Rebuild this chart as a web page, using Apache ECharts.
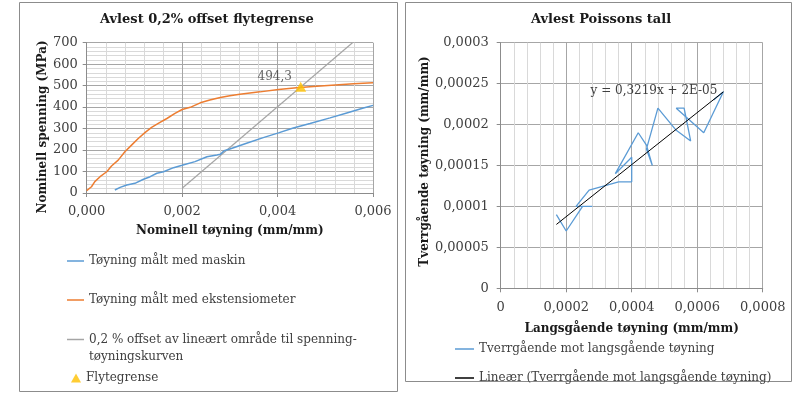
<!DOCTYPE html>
<html><head><meta charset="utf-8">
<script src="https://cdn.jsdelivr.net/npm/echarts@6/dist/echarts.min.js"></script>
<style>html,body{margin:0;padding:0;background:#fff}#c{width:800px;height:393px}</style>
</head><body><div id="c"></div>
<script>
// ---- Left chart data ----
const machineStrain = [0.00059, 0.0007, 0.00084, 0.00101, 0.00119, 0.00133, 0.00147, 0.00161, 0.00182, 0.002, 0.00227, 0.00252, 0.00273, 0.0028, 0.00288, 0.003, 0.00335, 0.0037, 0.00402, 0.00433, 0.00468, 0.0051, 0.00545, 0.0058, 0.006];
const machineStress = [14, 26, 37, 45, 64, 76, 92, 99, 118, 129, 146, 169, 177, 180, 197, 205, 232, 258, 280, 303, 324, 350, 373, 396, 408];
const extStrain = [0, 0.0001, 0.00017, 0.00028, 0.00042, 0.00052, 0.00066, 0.0008, 0.00094, 0.00108, 0.00122, 0.00136, 0.0015, 0.00168, 0.00185, 0.002, 0.00217, 0.00238, 0.00258, 0.0028, 0.003, 0.00321, 0.00363, 0.00402, 0.0044, 0.00482, 0.00521, 0.00559, 0.006];
const extStress = [11, 29, 53, 76, 99, 126, 153, 192, 223, 254, 281, 306, 324, 347, 371, 389, 399, 420, 433, 445, 453, 460, 471, 482, 490, 497, 503, 509, 513];
const offsetStrain = [0.002, 0.00557];
const offsetStress = [22, 700];
const yieldStrain = [0.004485];
const yieldStress = [494.3];
const leftXLabels = ['0,000', '0,002', '0,004', '0,006'];
const leftYLabels = ['0', '100', '200', '300', '400', '500', '600', '700'];

// ---- Right chart data ----
const longStrain = [0.00017, 0.0002, 0.00025, 0.00028, 0.00023, 0.00027, 0.00036, 0.0004, 0.0004, 0.00035, 0.00042, 0.000445, 0.000463, 0.000445, 0.00048, 0.000536, 0.00058, 0.00056, 0.000536, 0.00062, 0.00068, 0.00065];
const transStrain = [0.00009, 0.00007, 0.0001, 0.0001, 0.0001, 0.00012, 0.00013, 0.00013, 0.00016, 0.00014, 0.00019, 0.000175, 0.00015, 0.00017, 0.00022, 0.000193, 0.00018, 0.00022, 0.00022, 0.00019, 0.00024, 0.00023];
const trendX = [0.00017, 0.00068];
const trendY = [0.000078, 0.00024];
const trendLabelPos = [0.000468, 0.0002416];
const rightXLabels = ['0', '0,0002', '0,0004', '0,0006', '0,0008'];
const rightYLabels = ['0', '0,00005', '0,0001', '0,00015', '0,0002', '0,00025', '0,0003'];

const zip = (a, b) => a.map((v, i) => [v, b[i]]);
const F = 'DejaVu Serif';
const txt = '#404040';
const major = '#a6a6a6';
const minor = '#d9d9d9';

const N1 = 'Tøyning målt med maskin';
const N2 = 'Tøyning målt med ekstensiometer';
const N3 = '0,2 % offset av lineært område til spenning-\ntøyningskurven';
const N4 = 'Flytegrense';
const R1 = 'Tverrgående mot langsgående tøyning';
const R2 = 'Lineær (Tverrgående mot langsgående tøyning)';

function axisCommon(labels, margin, namePad) {
  return {
    axisLine: { show: true, lineStyle: { color: '#8c8c8c', width: 1 } },
    axisTick: { show: true, length: 4, lineStyle: { color: '#8c8c8c' } },
    axisLabel: { fontFamily: F, fontSize: 13, color: txt, margin: margin, formatter: (v, i) => labels[i] },
    splitLine: { show: true, lineStyle: { color: major, width: 1 } },
    nameTextStyle: { fontFamily: F, fontSize: 12, fontWeight: 'bold', color: '#1a1a1a', padding: namePad || 0 }
  };
}

const legendText = { fontFamily: F, fontSize: 12, color: txt };
function lineLegend(name, left, top, w, extra) {
  return Object.assign({ data: [name], orient: 'vertical', left: left, top: top, padding: 0, icon: 'rect',
    itemWidth: w, itemHeight: 1.5, selectedMode: false, textStyle: legendText }, extra || {});
}

const chart = echarts.init(document.getElementById('c'), null, { renderer: 'canvas' });
chart.setOption({
  animation: false,
  backgroundColor: '#fff',
  graphic: [
    { type: 'rect', shape: { x: 19.5, y: 2.5, width: 378, height: 389 }, style: { fill: 'none', stroke: '#8c8c8c', lineWidth: 1 }, z: -10 },
    { type: 'rect', shape: { x: 405.5, y: 2.5, width: 386, height: 379 }, style: { fill: 'none', stroke: '#8c8c8c', lineWidth: 1 }, z: -10 }
  ],
  title: [
    { text: 'Avlest 0,2% offset flytegrense', left: 95, top: 8, textStyle: { fontFamily: F, fontSize: 13, fontWeight: 'bold', color: '#1a1a1a' } },
    { text: 'Avlest Poissons tall', left: 526, top: 8, textStyle: { fontFamily: F, fontSize: 13, fontWeight: 'bold', color: '#1a1a1a' } }
  ],
  grid: [
    { left: 86.7, top: 42.7, width: 286.3, height: 150.3, outerBoundsMode: 'none' },
    { left: 500.7, top: 42.7, width: 262, height: 245.6, outerBoundsMode: 'none' }
  ],
  xAxis: [
    Object.assign(axisCommon(leftXLabels, 12), {
      type: 'value', gridIndex: 0, min: 0, max: 0.006, interval: 0.002,
      name: 'Nominell tøyning (mm/mm)', nameLocation: 'middle', nameGap: 32,
      minorTick: { show: false, splitNumber: 5 },
      minorSplitLine: { show: true, lineStyle: { color: minor, width: 1 } }
    }),
    Object.assign(axisCommon(rightXLabels, 13), {
      type: 'value', gridIndex: 1, min: 0, max: 0.0008, interval: 0.0002,
      name: 'Langsgående tøyning (mm/mm)', nameLocation: 'middle', nameGap: 35,
      minorTick: { show: false, splitNumber: 5 },
      minorSplitLine: { show: true, lineStyle: { color: minor, width: 1 } }
    })
  ],
  yAxis: [
    Object.assign(axisCommon(leftYLabels, 9, [0, 18, 0, 0]), {
      type: 'value', gridIndex: 0, min: 0, max: 700, interval: 100,
      name: 'Nominell spenning (MPa)', nameLocation: 'middle', nameGap: 36,
      minorTick: { show: false, splitNumber: 5 },
      minorSplitLine: { show: true, lineStyle: { color: minor, width: 1 } }
    }),
    Object.assign(axisCommon(rightYLabels, 12, [0, 0, 0, 8]), {
      type: 'value', gridIndex: 1, min: 0, max: 0.0003, interval: 0.00005,
      name: 'Tverrgående tøyning (mm/mm)', nameLocation: 'middle', nameGap: 65
    })
  ],
  legend: [
    lineLegend(N1, 67, 255, 17),
    lineLegend(N2, 67, 294, 17),
    lineLegend(N3, 67, 314, 17, { formatter: n => '\n' + n, textStyle: Object.assign({ lineHeight: 17 }, legendText) }),
    { data: [N4], orient: 'vertical', left: 71, top: 372, padding: 0, itemWidth: 10, itemHeight: 9, selectedMode: false, textStyle: legendText },
    lineLegend(R1, 455, 343, 19),
    lineLegend(R2, 455, 372, 19)
  ],
  series: [
    { name: N1, type: 'line', xAxisIndex: 0, yAxisIndex: 0, data: zip(machineStrain, machineStress), symbol: 'none',
      lineStyle: { color: '#5b9bd5', width: 1.5 }, itemStyle: { color: '#5b9bd5' }, z: 3 },
    { name: N2, type: 'line', xAxisIndex: 0, yAxisIndex: 0, data: zip(extStrain, extStress), symbol: 'none',
      lineStyle: { color: '#ed7d31', width: 1.5 }, itemStyle: { color: '#ed7d31' }, z: 3 },
    { name: N3, type: 'line', xAxisIndex: 0, yAxisIndex: 0, data: zip(offsetStrain, offsetStress), symbol: 'none',
      lineStyle: { color: '#a5a5a5', width: 1.2 }, itemStyle: { color: '#a5a5a5' }, z: 2 },
    { name: N4, type: 'scatter', xAxisIndex: 0, yAxisIndex: 0, data: zip(yieldStrain, yieldStress), symbol: 'triangle', symbolSize: [11, 10],
      itemStyle: { color: '#ffc000' }, z: 5,
      label: { show: true, position: 'inside', offset: [-26, -10], fontFamily: F, fontSize: 12, color: txt,
        formatter: p => String(p.value[1]).replace('.', ',') } },
    { name: R1, type: 'line', xAxisIndex: 1, yAxisIndex: 1, data: zip(longStrain, transStrain), symbol: 'none',
      lineStyle: { color: '#5b9bd5', width: 1.3 }, itemStyle: { color: '#5b9bd5' }, z: 3 },
    { name: R2, type: 'line', xAxisIndex: 1, yAxisIndex: 1, data: zip(trendX, trendY), symbol: 'none',
      lineStyle: { color: '#000', width: 1 }, itemStyle: { color: '#000' }, z: 4,
      markPoint: { symbol: 'circle', symbolSize: 0, silent: true,
        label: { show: true, position: 'inside', fontFamily: F, fontSize: 12, color: txt, formatter: 'y = 0,3219x + 2E-05' },
        data: [{ coord: trendLabelPos }] } }
  ]
});
</script></body></html>
